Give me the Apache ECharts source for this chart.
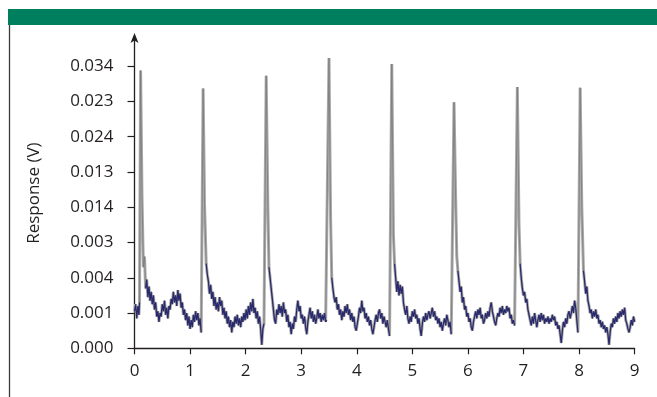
<!DOCTYPE html>
<html>
<head>
<meta charset="utf-8">
<script src="https://cdn.jsdelivr.net/npm/echarts@6/dist/echarts.min.js"></script>
<style>
  html, body { margin: 0; padding: 0; background: #fff; }
  #chart { width: 657px; height: 397px; }
</style>
</head>
<body>
<div id="chart"></div>
<script>
// y axis ticks are evenly spaced; the printed labels are kept as they appear
const yTickLabels = ["0.000", "0.001", "0.004", "0.003", "0.014", "0.013", "0.024", "0.023", "0.034"];
const xTicks = [0, 1, 2, 3, 4, 5, 6, 7, 8, 9];

// [time, response in tick units]
const trace = [
  [0.00,1.05],[0.02,1.25],[0.04,0.85],[0.06,1.2],[0.08,0.95],[0.09,1.3],
  [0.11,7.88],[0.135,4.3],[0.16,2.3],[0.18,2.6],[0.20,1.7],[0.22,1.95],[0.24,1.45],[0.26,1.75],[0.28,1.35],[0.30,1.6],[0.32,1.25],[0.34,1.5],[0.36,1.1],[0.38,1.3],[0.40,0.9],[0.42,1.05],[0.44,0.75],[0.46,1.0],[0.48,0.9],[0.50,1.25],[0.52,1.05],[0.54,1.35],[0.56,0.95],[0.58,1.15],[0.60,0.85],[0.62,1.2],[0.64,1.1],[0.66,1.4],[0.68,1.25],[0.70,1.6],[0.72,1.3],[0.74,1.5],[0.76,1.2],[0.78,1.65],[0.80,1.35],[0.82,1.55],[0.84,1.15],[0.86,1.3],[0.88,0.95],[0.90,1.1],[0.92,0.8],[0.94,1.0],[0.96,0.65],[0.98,0.9],[1.00,0.55],[1.02,0.8],[1.04,0.6],[1.06,0.95],[1.08,0.75],[1.10,1.05],[1.12,0.8],[1.14,1.0],[1.16,0.65],[1.18,0.85],[1.20,0.45],
  [1.235,7.37],[1.26,4.1],[1.29,2.4],[1.31,2.1],[1.33,1.9],[1.35,1.55],[1.37,1.8],[1.39,1.4],[1.41,1.6],[1.43,1.2],[1.45,1.45],[1.47,1.1],[1.49,1.3],[1.51,1.05],[1.53,1.45],[1.55,1.2],[1.57,1.35],[1.59,0.95],[1.61,1.15],[1.63,0.85],[1.65,1.05],[1.67,0.7],[1.69,0.9],[1.71,0.6],[1.73,0.8],[1.75,0.45],[1.77,0.75],[1.79,0.6],[1.81,0.9],[1.83,0.7],[1.85,0.95],[1.87,0.65],[1.89,0.85],[1.91,0.6],[1.93,0.9],[1.95,0.75],[1.97,1.0],[1.99,0.8],[2.01,1.1],[2.03,0.85],[2.05,1.2],[2.07,0.95],[2.09,1.3],[2.11,1.05],[2.13,1.4],[2.15,1.0],[2.17,1.15],[2.19,0.85],[2.21,1.05],[2.23,0.7],[2.25,0.9],[2.27,0.55],[2.29,0.1],[2.31,0.55],[2.33,0.7],
  [2.37,7.73],[2.40,4.0],[2.42,2.3],[2.44,2.0],[2.46,1.7],[2.48,1.4],[2.50,1.1],[2.52,0.8],[2.54,0.7],[2.56,1.1],[2.58,0.95],[2.60,1.25],[2.62,1.0],[2.64,1.2],[2.66,0.9],[2.68,1.3],[2.70,1.0],[2.72,1.1],[2.74,0.75],[2.76,0.95],[2.78,0.6],[2.80,0.75],[2.82,0.4],[2.84,0.7],[2.86,0.55],[2.88,0.9],[2.90,0.75],[2.92,1.1],[2.94,1.35],[2.96,1.05],[2.98,1.2],[3.00,0.85],[3.02,0.95],[3.04,0.7],[3.06,0.9],[3.08,0.6],[3.10,0.4],[3.12,0.75],[3.14,0.95],[3.16,1.15],[3.18,0.85],[3.20,1.05],[3.22,0.75],[3.24,0.95],[3.26,0.7],[3.28,0.85],[3.30,1.1],[3.32,0.85],[3.34,1.0],[3.36,0.75],[3.38,0.95],[3.40,0.8],[3.42,1.0],[3.44,0.75],[3.46,0.8],
  [3.50,8.23],[3.53,3.6],[3.55,2.0],[3.57,1.7],[3.59,1.45],[3.61,1.3],[3.63,1.45],[3.65,1.1],[3.67,1.25],[3.69,0.95],[3.71,1.1],[3.73,0.8],[3.75,1.05],[3.77,0.9],[3.79,1.2],[3.81,1.0],[3.83,1.25],[3.85,0.95],[3.87,1.1],[3.89,0.8],[3.91,1.0],[3.93,0.75],[3.95,0.9],[3.97,0.6],[3.99,0.5],[4.01,0.7],[4.03,0.9],[4.05,1.15],[4.07,1.0],[4.09,1.35],[4.11,1.05],[4.13,1.15],[4.15,0.85],[4.17,1.0],[4.19,0.75],[4.21,0.9],[4.23,0.65],[4.25,0.8],[4.27,0.55],[4.29,0.4],[4.31,0.6],[4.33,0.8],[4.35,0.95],[4.37,0.75],[4.39,1.0],[4.41,1.1],[4.43,0.85],[4.45,1.0],[4.47,0.7],[4.49,0.9],[4.51,0.75],[4.53,0.6],[4.55,0.8],[4.57,0.55],[4.59,0.35],
  [4.63,8.06],[4.66,3.2],[4.68,2.4],[4.70,2.0],[4.72,1.6],[4.74,1.9],[4.76,1.5],[4.78,1.8],[4.80,1.55],[4.82,1.75],[4.84,1.3],[4.86,1.1],[4.88,0.95],[4.90,1.2],[4.92,0.85],[4.94,0.7],[4.96,0.9],[4.98,0.75],[5.00,1.05],[5.02,0.9],[5.04,1.1],[5.06,0.85],[5.08,0.95],[5.10,0.7],[5.12,0.85],[5.14,0.55],[5.16,0.35],[5.18,0.7],[5.20,0.9],[5.22,0.75],[5.24,1.0],[5.26,0.8],[5.28,0.95],[5.30,1.05],[5.32,0.85],[5.34,1.0],[5.36,1.15],[5.38,0.9],[5.40,1.05],[5.42,0.8],[5.44,0.9],[5.46,0.7],[5.48,0.85],[5.50,0.6],[5.52,0.75],[5.54,0.5],[5.56,0.7],[5.58,0.85],[5.60,0.65],[5.62,0.95],[5.64,0.8],[5.66,0.6],[5.68,0.75],[5.70,0.4],
  [5.75,6.98],[5.78,4.2],[5.80,2.6],[5.82,2.2],[5.84,1.9],[5.86,1.6],[5.88,1.75],[5.90,1.3],[5.92,1.45],[5.94,1.1],[5.96,1.2],[5.98,0.9],[6.00,1.0],[6.02,0.75],[6.04,0.85],[6.06,0.6],[6.08,0.5],[6.10,0.75],[6.12,0.9],[6.14,1.05],[6.16,0.85],[6.18,1.1],[6.20,0.95],[6.22,1.15],[6.24,0.85],[6.26,0.95],[6.28,0.7],[6.30,0.8],[6.32,1.0],[6.34,0.85],[6.36,1.05],[6.38,0.9],[6.40,1.15],[6.42,1.3],[6.44,1.05],[6.46,0.9],[6.48,0.75],[6.50,0.65],[6.52,0.85],[6.54,1.0],[6.56,0.9],[6.58,1.15],[6.60,1.0],[6.62,1.2],[6.64,0.95],[6.66,1.1],[6.68,1.0],[6.70,1.2],[6.72,1.05],[6.74,1.15],[6.76,0.85],[6.78,0.95],[6.80,0.7],[6.82,0.8],[6.84,0.65],
  [6.89,7.41],[6.92,3.5],[6.94,2.4],[6.96,2.0],[6.98,1.7],[7.00,1.5],[7.02,1.6],[7.04,1.3],[7.06,1.4],[7.08,1.1],[7.10,0.95],[7.12,0.8],[7.14,0.65],[7.16,0.9],[7.18,0.7],[7.20,1.0],[7.22,0.8],[7.24,0.6],[7.26,0.8],[7.28,0.95],[7.30,0.75],[7.32,1.0],[7.34,0.8],[7.36,0.95],[7.38,0.7],[7.40,0.85],[7.42,0.75],[7.44,0.9],[7.46,0.7],[7.48,0.85],[7.50,0.75],[7.52,0.95],[7.54,0.8],[7.56,0.9],[7.58,0.65],[7.60,0.75],[7.62,0.55],[7.64,0.65],[7.66,0.4],[7.68,0.15],[7.70,0.5],[7.72,0.75],[7.74,0.6],[7.76,0.85],[7.78,0.7],[7.80,0.95],[7.82,1.05],[7.84,0.85],[7.86,1.0],[7.88,1.2],[7.90,1.0],[7.92,1.35],[7.94,1.15],[7.96,0.8],[7.98,0.45],
  [8.02,7.39],[8.05,4.0],[8.08,2.2],[8.10,1.9],[8.12,1.55],[8.14,1.75],[8.16,1.35],[8.18,1.2],[8.20,1.0],[8.22,1.1],[8.24,0.85],[8.26,1.05],[8.28,0.9],[8.30,1.1],[8.32,0.85],[8.34,0.95],[8.36,0.7],[8.38,0.8],[8.40,0.6],[8.42,0.75],[8.44,0.55],[8.46,0.65],[8.48,0.45],[8.50,0.6],[8.52,0.4],[8.54,0.1],[8.56,0.45],[8.58,0.7],[8.60,0.6],[8.62,0.85],[8.64,0.7],[8.66,0.9],[8.68,0.75],[8.70,1.0],[8.72,0.85],[8.74,1.05],[8.76,0.9],[8.78,1.1],[8.80,0.95],[8.82,1.15],[8.84,0.8],[8.86,0.7],[8.88,0.55],[8.90,0.45],[8.92,0.6],[8.94,0.8],[8.96,0.65],[8.98,0.9],[9.00,0.75]
];

const font = "'Open Sans', 'Noto Sans', sans-serif";
const ink = "#231f20";

// the navy noise only shows along the baseline; the spikes stay grey
const baseline = trace.map(([x, y]) => [x, y > 2.5 ? null : y]);

const chart = echarts.init(document.getElementById("chart"), null, { renderer: "canvas" });

chart.setOption({
  animation: false,
  backgroundColor: "#fff",
  grid: { left: 134.5, right: 22.4, top: 38, bottom: 48.7, containLabel: false },
  graphic: [
    { type: "rect", shape: { x: 8, y: 9, width: 649, height: 16 }, style: { fill: "#007f5f" } },
    { type: "line", shape: { x1: 9.5, y1: 25, x2: 9.5, y2: 397 }, style: { stroke: "#3a3a3a", lineWidth: 1.3 } }
  ],
  xAxis: {
    type: "value",
    min: 0,
    max: 9,
    interval: 1,
    splitLine: { show: false },
    axisLine: { lineStyle: { color: ink, width: 1.3 } },
    axisTick: { show: true, length: 6, lineStyle: { color: ink, width: 1.2 } },
    axisLabel: {
      color: ink, fontFamily: font, fontSize: 17, margin: 14,
      customValues: xTicks,
      formatter: (v) => String(v)
    }
  },
  yAxis: {
    type: "value",
    min: 0,
    max: 8.8,
    name: "Response (V)",
    nameLocation: "middle",
    nameRotate: 90,
    nameGap: 92,
    nameTextStyle: { color: ink, fontFamily: font, fontSize: 17 },
    splitLine: { show: false },
    axisLine: {
      lineStyle: { color: ink, width: 1.3 },
      symbol: ["none", "arrow"],
      symbolSize: [6, 10],
      symbolOffset: [0, 5]
    },
    axisTick: { show: true, length: 7, customValues: yTickLabels.map((_, i) => i), lineStyle: { color: ink, width: 1.2 } },
    axisLabel: {
      color: ink, fontFamily: font, fontSize: 17, margin: 21,
      customValues: yTickLabels.map((_, i) => i),
      formatter: (v) => yTickLabels[Math.round(v)] ?? ""
    }
  },
  series: [
    {
      type: "line",
      data: trace,
      showSymbol: false,
      silent: true,
      lineStyle: { color: "#ababab", width: 3 },
      z: 2
    },
    {
      type: "line",
      data: trace,
      showSymbol: false,
      silent: true,
      lineStyle: { color: "#7a7a7a", width: 0.8 },
      z: 3
    },
    {
      type: "line",
      data: baseline,
      connectNulls: false,
      showSymbol: false,
      silent: true,
      lineStyle: { color: "#28286e", width: 1.2 },
      z: 4
    }
  ]
});
</script>
</body>
</html>
